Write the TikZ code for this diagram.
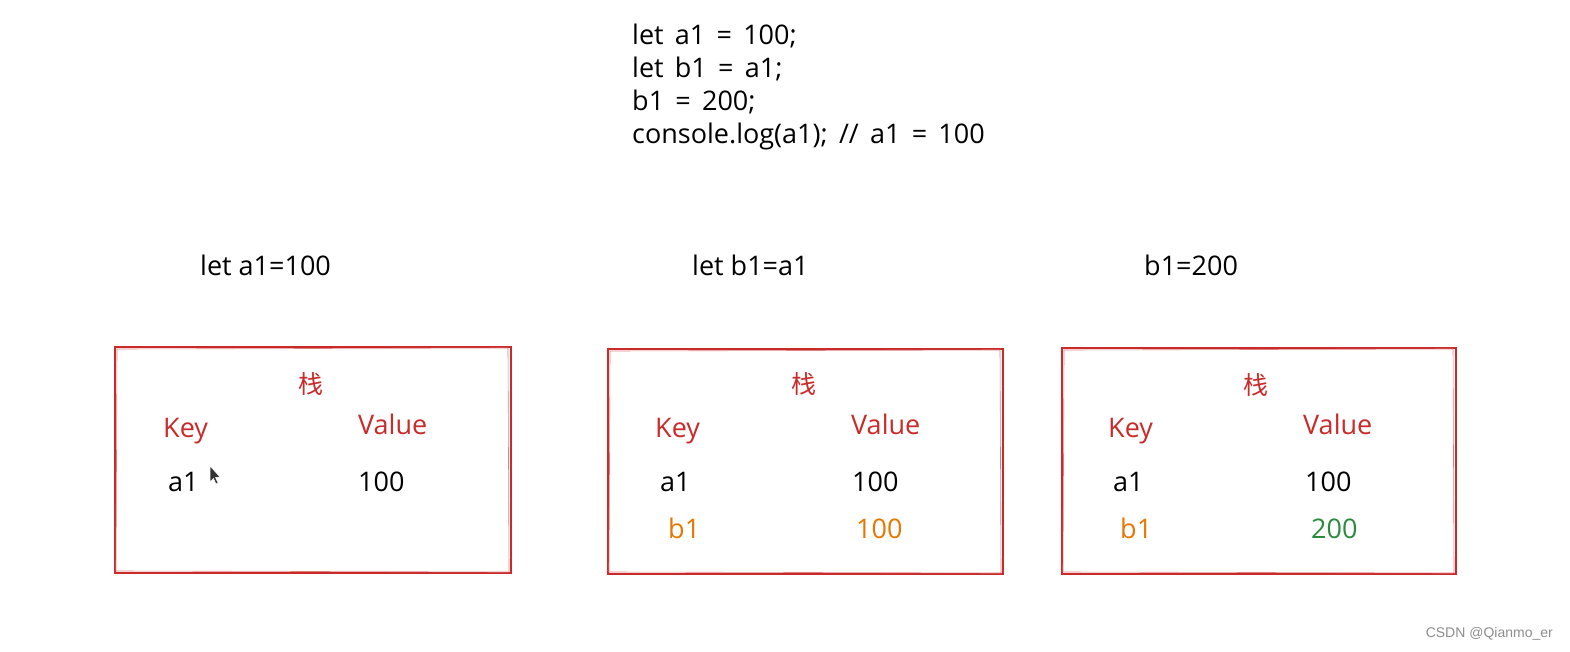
\documentclass[tikz,border=0pt]{standalone}
\usepackage{fontspec}
\setmainfont{Open Sans}
\newfontfamily\codefont[WordSpace=1.6]{Open Sans}
\newfontfamily\cjk{Noto Sans CJK SC}
\newfontfamily\wmfont{Liberation Sans}
\definecolor{exred}{HTML}{C92A2A}
\definecolor{exorange}{HTML}{E67700}
\definecolor{exgreen}{HTML}{2B8A3E}
\begin{document}
\begin{tikzpicture}[x=1pt,y=-1pt,
  txt/.style={inner sep=0pt,font=\fontsize{27}{33}\selectfont},
  lbl/.style={txt,anchor=base west},
  codeline/.style={txt,anchor=base west,font=\codefont\fontsize{27}{33}\selectfont},
  hdr/.style={lbl,text=exred},
  stackbox/.style={draw=exred,line width=1.1pt},
  sketch/.style={draw=exred!60,line width=0.6pt},
  ttl/.style={inner sep=0pt,font=\cjk\fontsize{25}{29}\selectfont,text=exred}]
\useasboundingbox (0,0) rectangle (1570,652);
% code
\node[codeline] (c1) at (632,45) {let a1 = 100;};
\node[codeline] (c2) at (632,78) {let b1 = a1;};
\node[codeline] (c3) at (632,111) {b1 = 200;};
\node[codeline] (c4) at (632,144) {console.log(a1); // a1 = 100};
% step titles
\node[lbl] (t1) at (200,276) {let a1=100};
\node[lbl] (t2) at (692,276) {let b1=a1};
\node[lbl] (t3) at (1144,276) {b1=200};
% boxes
\foreach \n/\xa/\ya/\xb/\yb in {1/115/347/511/573, 2/608/349/1003/574, 3/1062/348/1456/574}{
  \draw[stackbox] (\xa,\ya) rectangle (\xb,\yb);
  \draw[sketch] (\xa+2,\ya+2) -- (\xb-3,\ya+1) -- (\xb-2,\yb-1) -- (\xa+1,\yb-2) -- cycle;
}
% box 1
\node[ttl] (s1) at (311,384) {栈};
\node[hdr] (k1) at (163,437) {Key};
\node[hdr] (v1) at (358,434) {Value};
\node[lbl] (a11) at (168,491) {a1};
\node[lbl] (a1v) at (358,491) {100};
% cursor
\draw[fill=black!80,draw=white,line width=0.5pt] (210,466) -- (210,482) -- (213.5,478.5) -- (216,484) -- (218,483) -- (215.5,477.5) -- (220,477) -- cycle;
% box 2
\node[ttl] (s2) at (804,384) {栈};
\node[hdr] (k2) at (655,437) {Key};
\node[hdr] (v2) at (851,434) {Value};
\node[lbl] (a12) at (660,491) {a1};
\node[lbl] (a2v) at (852,491) {100};
\node[lbl,text=exorange] (b12) at (668,538) {b1};
\node[lbl,text=exorange] (b2v) at (856,538) {100};
% box 3
\node[ttl] (s3) at (1256,385) {栈};
\node[hdr] (k3) at (1108,437) {Key};
\node[hdr] (v3) at (1303,434) {Value};
\node[lbl] (a13) at (1113,491) {a1};
\node[lbl] (a3v) at (1305,491) {100};
\node[lbl,text=exorange] (b13) at (1120,538) {b1};
\node[lbl,text=exgreen] (b3v) at (1311,538) {200};
% watermark
\node[inner sep=0pt,anchor=east,font=\wmfont\fontsize{14}{16}\selectfont,text=black!45] (wm) at (1553,634) {CSDN @Qianmo\_er};
\end{tikzpicture}
\end{document}
